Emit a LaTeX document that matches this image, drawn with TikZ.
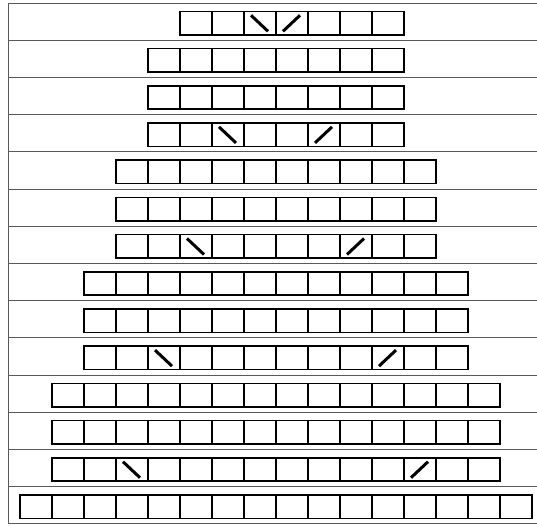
\documentclass[tikz,border=0pt]{standalone}
\usetikzlibrary{calc}
\tikzset{
  frameline/.style={draw=black!65,line width=0.9pt},
  cellbox/.style={draw=black,line width=1.6pt},
  slashline/.style={draw=black,line width=3pt},
}
\begin{document}
\begin{tikzpicture}[x=1pt,y=-1pt]
  \useasboundingbox (0,0) rectangle (537,525);
  % frame and row rules
  \draw[frameline] (8,3) -- (8,524);
  \foreach \k in {0,...,14}
    \draw[frameline] (8,3+37.2*\k) -- (537,3+37.2*\k);
  % rows of cells: row/left x/cells
  \foreach \r/\xa/\n in {1/180/7,2/148/8,3/148/8,4/148/8,5/116/10,6/116/10,7/116/10,
      8/84/12,9/84/12,10/84/12,11/52/14,12/52/14,13/52/14,14/20/16}{
    \pgfmathsetmacro\yt{3+37.2*(\r-1)+8.3}
    \foreach \i in {1,...,\n}
      \draw[cellbox] (\xa+32*\i-32,\yt) rectangle ++(32,23.5);
  }
  % slashes: row/left x/cell/direction (1 = back, -1 = forward)
  \foreach \r/\xa/\c/\s in {1/180/3/1,1/180/4/-1,4/148/3/1,4/148/6/-1,7/116/3/1,7/116/8/-1,
      10/84/3/1,10/84/10/-1,13/52/3/1,13/52/12/-1}{
    \pgfmathsetmacro\yt{3+37.2*(\r-1)+8.3}
    \pgfmathsetmacro\xc{\xa+32*\c-32}
    \draw[slashline] (\xc+7,\yt+12-8*\s) -- (\xc+24,\yt+12+8*\s);
  }
\end{tikzpicture}
\end{document}
